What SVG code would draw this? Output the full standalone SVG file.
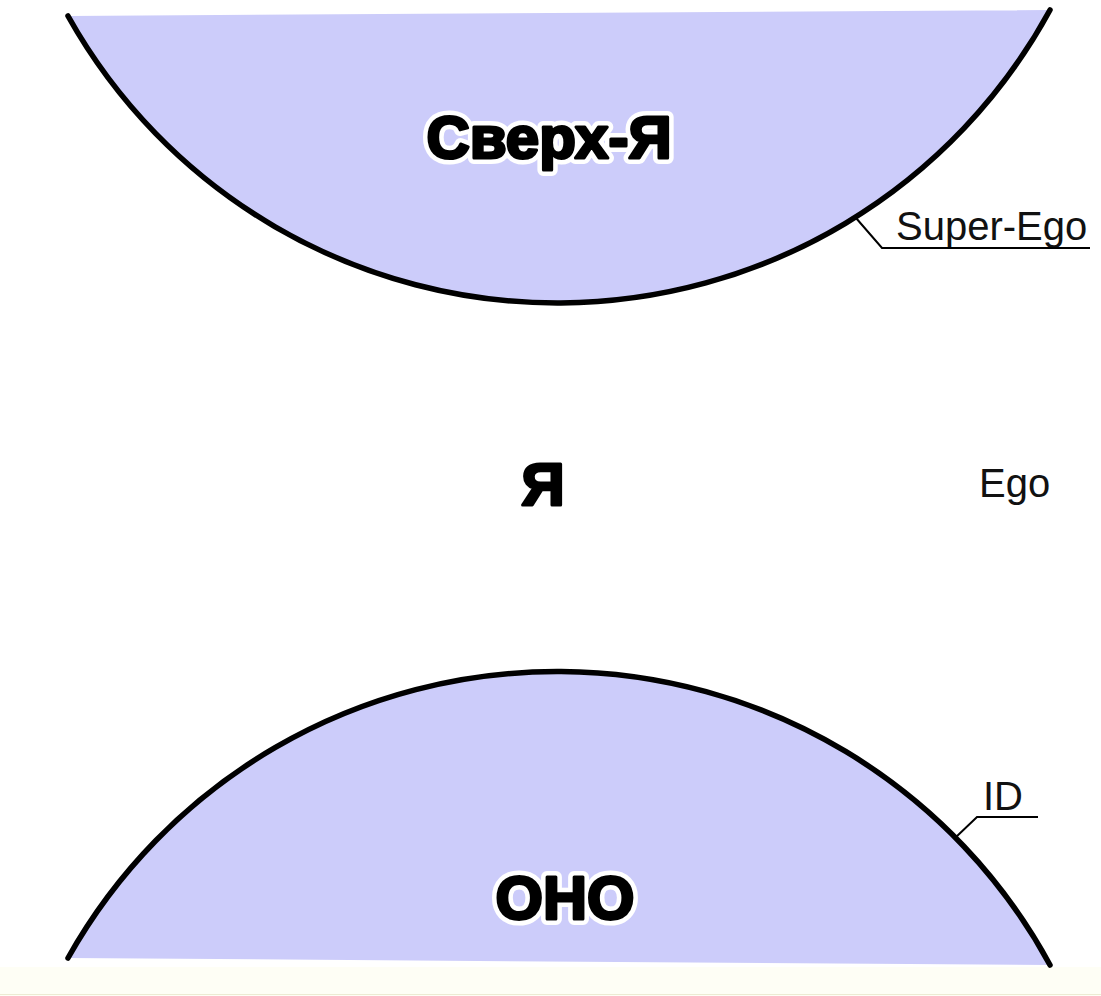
<svg xmlns="http://www.w3.org/2000/svg" width="1101" height="996" viewBox="0 0 1101 996">
<style>
.region{fill:#ccccfa;stroke:none}
.edge{fill:none;stroke:#000;stroke-width:5.5;stroke-linecap:round}
.lead{fill:none;stroke:#000;stroke-width:2}
.heavy{font-family:"Liberation Sans",Arial,sans-serif;font-weight:bold;text-anchor:middle}
.halo{fill:#fff;stroke:#fff;stroke-width:12;stroke-linejoin:round}
.ink{fill:#000;stroke:#000;stroke-width:3;stroke-linejoin:round}
.label{font-family:"Liberation Sans",Arial,sans-serif;font-size:40px;fill:#111}
</style>
<rect x="0" y="0" width="1101" height="996" fill="#fff"/>
<rect x="0" y="967" width="1101" height="29" fill="#fefef5"/>
<line x1="0" y1="994.5" x2="1101" y2="994.5" stroke="#ecebd2" stroke-width="1"/>
<g id="superego">
<path class="region" d="M68,16 L1050,10 A560.7,560.7 0 0 1 68,16 Z"/>
<path class="edge" d="M68,16 A560.7,560.7 0 0 0 1050,10"/>
<text class="heavy halo" x="549" y="158" font-size="60">Сверх-Я</text>
<text class="heavy ink" x="549" y="158" font-size="60">Сверх-Я</text>
</g>
<g id="ego">
<text class="heavy ink" x="543" y="505" font-size="60">Я</text>
</g>
<g id="id">
<path class="region" d="M68,958 A560.7,560.7 0 0 1 1050,965 Z"/>
<path class="edge" d="M68,958 A560.7,560.7 0 0 1 1050,965"/>
<text class="heavy halo" x="565" y="919" font-size="61">ОНО</text>
<text class="heavy ink" x="565" y="919" font-size="61">ОНО</text>
</g>
<g id="labels">
<text class="label" x="896" y="240">Super-Ego</text>
<text class="label" x="979" y="497">Ego</text>
<text class="label" x="983" y="810">ID</text>
</g>
<g id="connectors">
<polyline class="lead" points="856,218 882,248 1090,248"/>
<polyline class="lead" points="955,838 977,817 1038,817"/>
</g>
</svg>
